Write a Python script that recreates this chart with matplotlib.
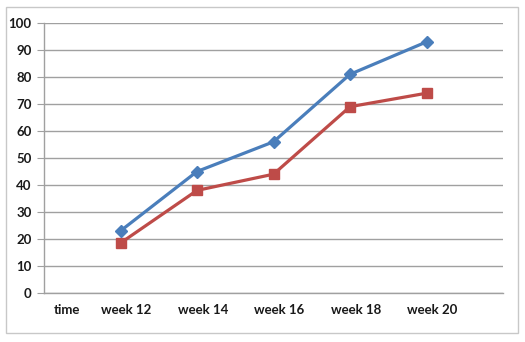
import matplotlib
matplotlib.use("Agg")
import matplotlib.pyplot as plt
from matplotlib.patches import Rectangle
from matplotlib.transforms import ScaledTranslation

categories = ["time", "week 12", "week 14", "week 16", "week 18", "week 20"]
series_blue = [None, 23, 45, 56, 81, 93]
series_red = [None, 18.5, 38, 44, 69, 74]
yticks = [0, 10, 20, 30, 40, 50, 60, 70, 80, 90, 100]

W, H = 525, 342
fig = plt.figure(figsize=(W / 100, H / 100), dpi=100)
fig.patch.set_facecolor("white")
ax = fig.add_axes([44 / W, 1 - 293 / H, (503 - 44) / W, (293 - 23) / H])

fig.add_artist(Rectangle((6 / W, 1 - 333 / H), (518 - 6) / W, (333 - 7) / H,
                         transform=fig.transFigure, fill=False,
                         edgecolor="#c8c8c8", linewidth=1))

x = list(range(len(categories)))
bx = [i for i, v in zip(x, series_blue) if v is not None]
bv = [v for v in series_blue if v is not None]
rx = [i for i, v in zip(x, series_red) if v is not None]
rv = [v for v in series_red if v is not None]

ax.plot(bx, bv, color="#4a7ebb", linewidth=2.3, marker="D", markersize=6.5,
        zorder=4)
ax.plot(rx, rv, color="#be4b48", linewidth=2.3, marker="s", markersize=7,
        zorder=3)

ax.set_xlim(0, 6)
ax.set_ylim(0, 100)
ax.set_yticks(yticks)
ax.yaxis.grid(True, color="#a0a0a0", linewidth=1)
ax.set_axisbelow(True)
for s in ["top", "right"]:
    ax.spines[s].set_visible(False)
ax.spines["left"].set_color("#a0a0a0")
ax.spines["bottom"].set_color("#a0a0a0")
ax.spines["left"].set_linewidth(1)
ax.spines["bottom"].set_linewidth(1)

ax.set_xticks(x)
ax.set_xticklabels(categories)
ax.tick_params(axis="x", length=0, pad=8, labelsize=9.5, labelcolor="#1a1a1a")
ax.tick_params(axis="y", length=5, color="#a0a0a0", pad=4, labelsize=9.5,
               labelcolor="#1a1a1a", direction="out")
for lab in ax.get_xticklabels() + ax.get_yticklabels():
    lab.set_fontfamily("Lato")
    lab.set_fontweight("bold")
labs = ax.get_xticklabels()
labs[0].set_transform(labs[0].get_transform() + ScaledTranslation(23 / 100, 0, fig.dpi_scale_trans))
for lab in labs[1:]:
    lab.set_transform(lab.get_transform() + ScaledTranslation(6 / 100, 0, fig.dpi_scale_trans))

fig.savefig("out.png", dpi=100)
